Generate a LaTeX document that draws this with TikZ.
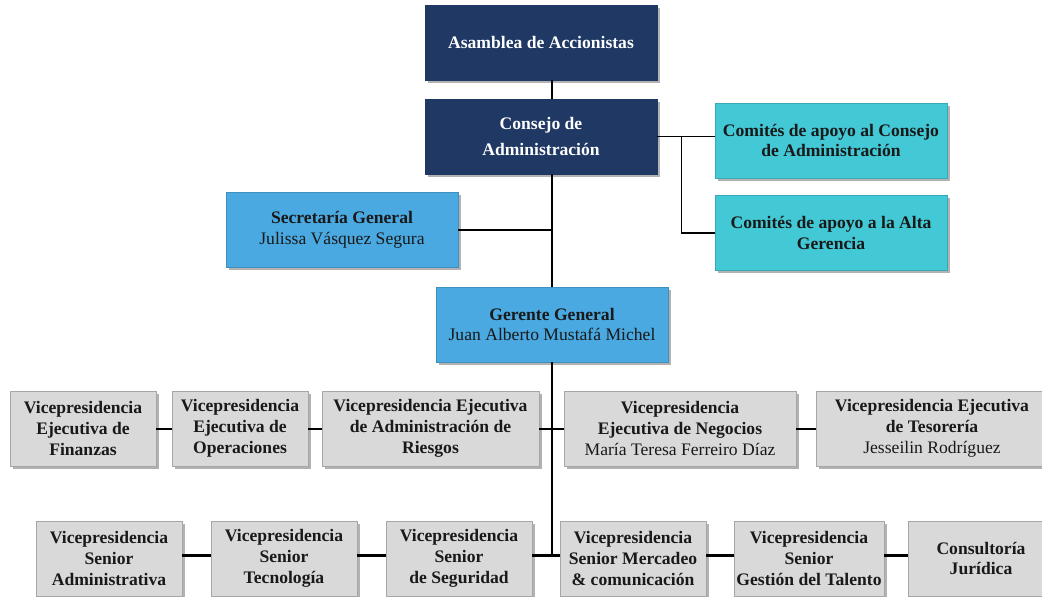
\documentclass[tikz,border=0pt]{standalone}
\usepackage{fontspec}
\setmainfont{Liberation Serif}
\usepackage{tikz}
\usetikzlibrary{arrows,shapes}
\usetikzlibrary{positioning,shadows}
\definecolor{marino}{HTML}{1F3864}
\definecolor{turquesa}{HTML}{43C8D5}
\definecolor{celeste}{HTML}{4AA9E1}
\definecolor{gris}{HTML}{D9D9D9}
\definecolor{grisborde}{HTML}{A6A6A6}
\tikzstyle{caja} = [draw, rectangle, align=center, inner sep=1pt,
    font=\fontsize{13.2}{15.6}\selectfont\bfseries, text=black!90,
    drop shadow={shadow xshift=2pt, shadow yshift=-2pt, fill=black, opacity=0.3}]
\tikzstyle{junta} = [caja, fill=marino, draw=marino, text=white,
    minimum width=174pt, minimum height=56.25pt]
\tikzstyle{comite} = [caja, fill=turquesa, draw=turquesa!85!black,
    minimum width=174pt, minimum height=56.25pt]
\tikzstyle{gerencia} = [caja, fill=celeste, draw=celeste!85!black,
    minimum width=174pt, minimum height=56.25pt]
\tikzstyle{vice} = [caja, fill=gris, draw=grisborde, minimum height=56.25pt]
\tikzstyle{linea} = [draw, black, line width=1.1pt]
\tikzstyle{lineagruesa} = [draw, black, line width=2.2pt]

\begin{document}
\begin{tikzpicture}[x=0.75pt, y=-0.75pt, node distance=70.5pt]
  \useasboundingbox (0,0) rectangle (1042,596);
  \clip (0,0) rectangle (1042,596);
  % Place nodes
  \node [junta] (asamblea) at (541,42.5) {Asamblea de Accionistas};
  \node [junta, below of=asamblea] (consejo)
  {Consejo de\\[4pt]Administración};
  \node [comite] (comite1) at (831,140.5)
  {Comités de apoyo al Consejo\\de Administración};
  \node [comite, below of=comite1, node distance=69.4pt] (comite2)
  {Comités de apoyo a la Alta\\Gerencia};
  \node [gerencia] (secretaria) at (342,230)
  {Secretaría General\\\textmd{Julissa Vásquez Segura}};
  \node [gerencia] (gerente) at (552,324.5)
  {Gerente General\\\textmd{Juan Alberto Mustafá Michel}};

  % Vicepresidencias ejecutivas
  \node [vice, minimum width=109.5pt] (finanzas) at (83,428.5)
  {Vicepresidencia\\Ejecutiva de\\Finanzas};
  \node [vice, minimum width=102pt, right of=finanzas, node distance=117.75pt] (operaciones)
  {Vicepresidencia\\Ejecutiva de\\Operaciones};
  \node [vice, minimum width=162.75pt, right of=operaciones, node distance=142.875pt] (riesgos)
  {Vicepresidencia Ejecutiva\\de Administración de\\Riesgos};
  \node [vice, minimum width=174pt, right of=riesgos, node distance=187.125pt] (negocios)
  {Vicepresidencia\\Ejecutiva de Negocios\\\textmd{María Teresa Ferreiro Díaz}};
  \node [vice, minimum width=174pt, right of=negocios, node distance=189pt] (tesoreria)
  {Vicepresidencia Ejecutiva\\de Tesorería\\\textmd{Jesseilin Rodríguez}};

  % Vicepresidencias senior
  \node [vice, minimum width=109.5pt] (administrativa) at (109,558.5)
  {Vicepresidencia\\Senior\\Administrativa};
  \node [vice, minimum width=109.5pt, right of=administrativa, node distance=131.25pt] (tecnologia)
  {Vicepresidencia\\Senior\\Tecnología};
  \node [vice, minimum width=109.5pt, right of=tecnologia, node distance=131.25pt] (seguridad)
  {Vicepresidencia\\Senior\\de Seguridad};
  \node [vice, minimum width=109.5pt, right of=seguridad, node distance=130.5pt] (mercadeo)
  {Vicepresidencia\\Senior Mercadeo\\\& comunicación};
  \node [vice, minimum width=112.5pt, right of=mercadeo, node distance=132pt] (talento)
  {Vicepresidencia\\Senior\\Gestión del Talento};
  \node [vice, minimum width=109.5pt, right of=talento, node distance=129pt] (juridica)
  {Consultoría\\Jurídica};

  % Lines
  \draw [linea] (gerente.north |- asamblea.south) -- (gerente.north |- consejo.north);
  \draw [linea] (gerente.north |- consejo.south) -- (gerente.north);
  \draw [linea] (secretaria.east) -- (secretaria.east -| gerente.north);
  \draw [linea] (consejo.east) -- (consejo.east -| comite1.west);
  \coordinate [right=18pt of consejo.east] (ramal);
  \draw [linea] (ramal) |- (comite2.west);

  \draw [linea, line width=1.5pt] (finanzas) -- (operaciones);
  \draw [linea, line width=1.5pt] (operaciones) -- (riesgos);
  \draw [linea, line width=1.5pt] (riesgos) -- (negocios);
  \draw [linea, line width=1.5pt] (negocios) -- (tesoreria);
  \draw [linea] (gerente.south) -- ([yshift=2pt]gerente.south |- seguridad.east);

  \draw [lineagruesa] ([yshift=2pt]administrativa.east) -- ([yshift=2pt]tecnologia.west);
  \draw [lineagruesa] ([yshift=2pt]tecnologia.east) -- ([yshift=2pt]seguridad.west);
  \draw [lineagruesa] ([yshift=2pt]seguridad.east) -- ([yshift=2pt]mercadeo.west);
  \draw [lineagruesa] ([yshift=2pt]mercadeo.east) -- ([yshift=2pt]talento.west);
  \draw [lineagruesa] ([yshift=2pt]talento.east) -- ([yshift=2pt]juridica.west);
\end{tikzpicture}
\end{document}
